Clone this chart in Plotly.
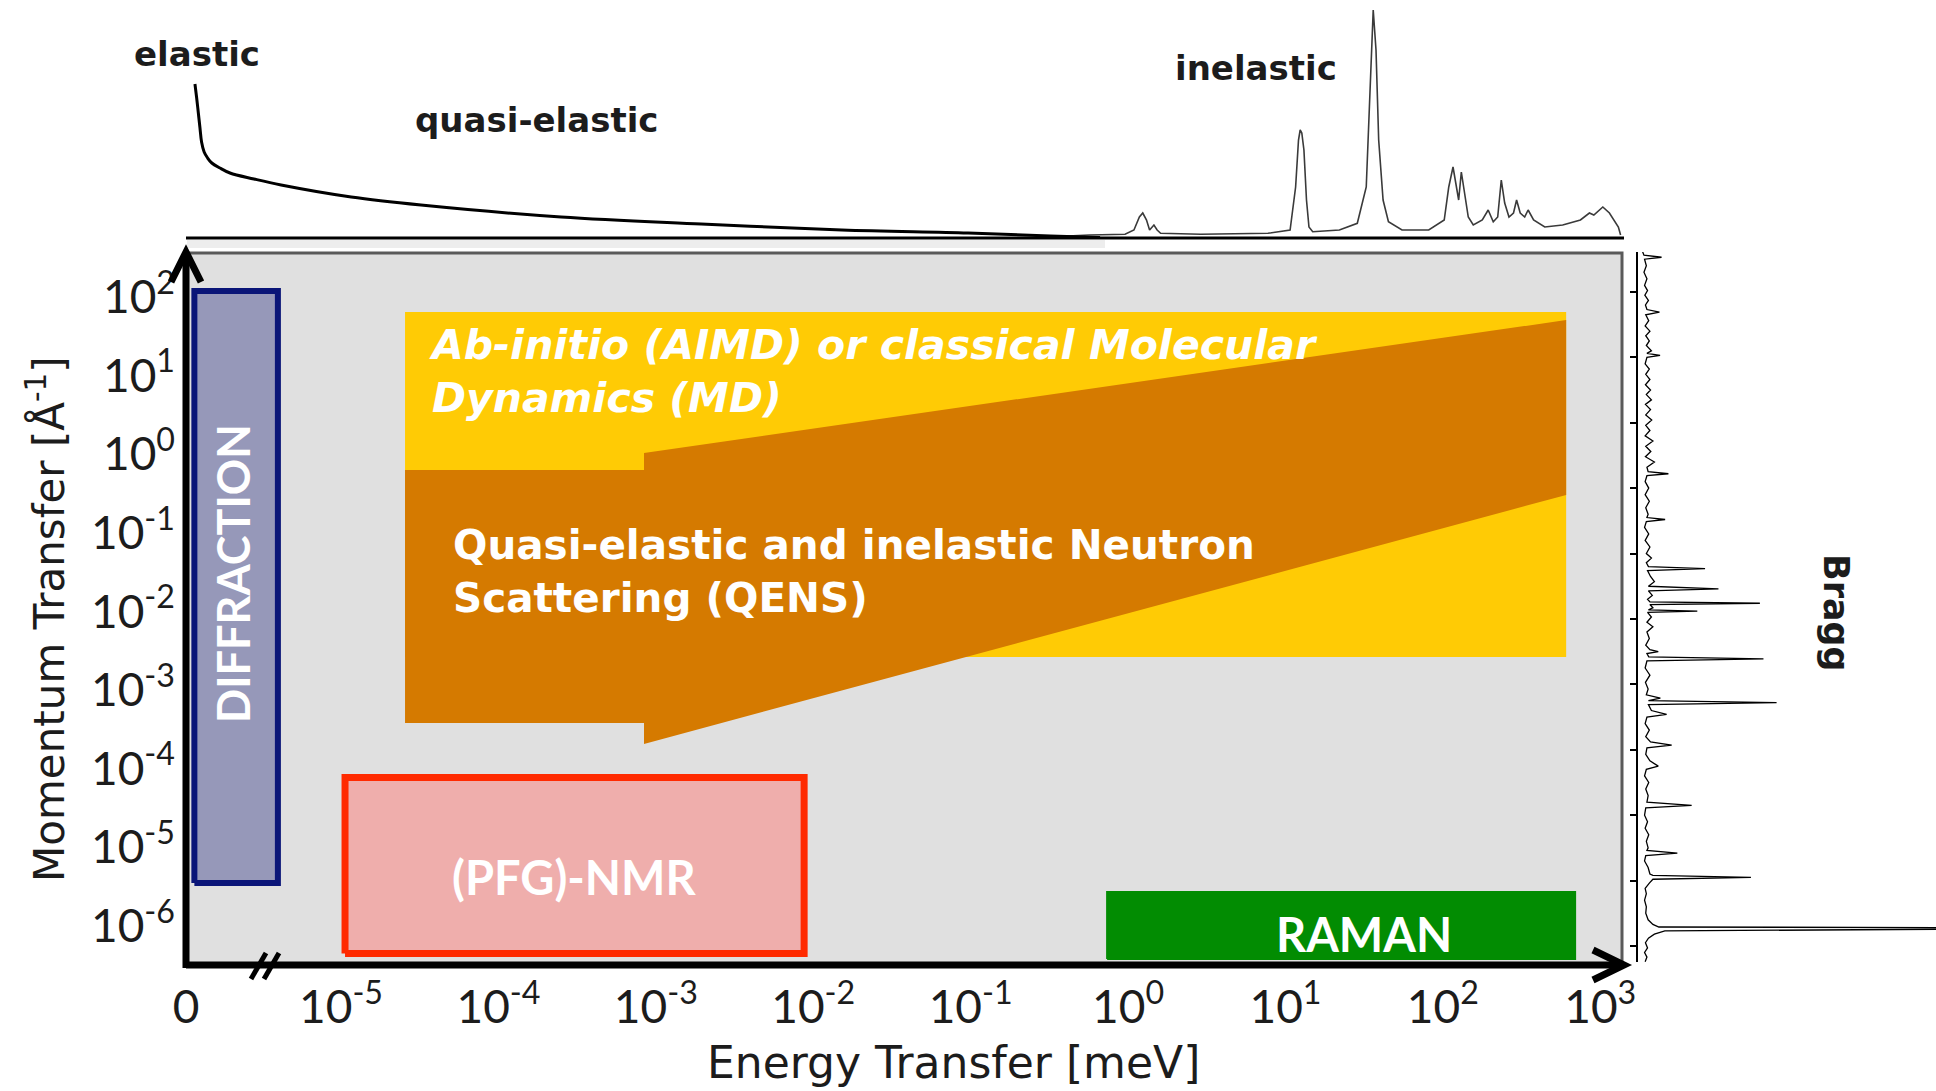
import plotly.graph_objects as go

W, H = 1936, 1091

# ---------------- data ----------------
x_tick_vals = [1.035e-6, 1e-5, 1e-4, 1e-3, 1e-2, 1e-1, 1e0, 1e1, 1e2, 1e3]
x_tick_text = ["0", "10<sup>-5</sup>", "10<sup>-4</sup>", "10<sup>-3</sup>", "10<sup>-2</sup>",
               "10<sup>-1</sup>", "10<sup>0</sup>", "10<sup>1</sup>", "10<sup>2</sup>", "10<sup>3</sup>"]
y_tick_vals = [1e2, 1e1, 1e0, 1e-1, 1e-2, 1e-3, 1e-4, 1e-5, 1e-6]
y_tick_text = ["10<sup>2</sup>", "10<sup>1</sup>", "10<sup>0</sup>", "10<sup>-1</sup>", "10<sup>-2</sup>",
               "10<sup>-3</sup>", "10<sup>-4</sup>", "10<sup>-5</sup>", "10<sup>-6</sup>"]

# technique regions: energy (meV) and momentum (1/A) limits
diffraction_E = [1.17e-6, 3.97e-6]
diffraction_Q = [3.5e-6, 119]
nmr_E = [1.06e-5, 8.75e-3]
nmr_Q = [4.45e-7, 7.7e-5]
raman_E = [0.736, 692]
raman_Q = [3.78e-7, 2.69e-6]
md_E = [2.55e-5, 607]
md_Q = [2.63e-3, 64.4]
qens_E = [2.55e-5, 8.41e-4, 8.41e-4, 607, 607, 8.41e-4, 8.41e-4, 2.55e-5, 2.55e-5]
qens_Q = [0.630, 0.630, 1.035, 50.9, 0.303, 2.06e-4, 3.80e-4, 3.80e-4, 0.630]

# top spectrum: elastic / quasi-elastic line (energy meV, intensity a.u.)
qe_E = [1.18e-6, 1.21e-6, 1.24e-6, 1.27e-6, 1.30e-6, 1.35e-6, 1.42e-6, 1.51e-6, 1.70e-6, 1.97e-6,
        2.8e-6, 4.16e-6, 1.16e-5, 3.22e-5, 2.50e-4, 1.94e-3, 1.52e-2, 9.62e-2, 0.320, 0.664]
qe_I = [154, 140, 125, 110, 96, 86, 80, 75, 70, 65,
        59, 53, 41, 33, 21, 14, 8, 5, 2, 0.5]

# top spectrum: inelastic (vibrational) spectrum
inel_E = [0.277, 0.568, 0.957, 1.09, 1.18, 1.24, 1.31, 1.37, 1.46, 1.53, 1.61, 2.90, 7.74, 10.7,
          11.6, 12.1, 12.4, 12.7, 13.1, 13.6, 14.1, 14.9, 22.0, 28.6, 32.6, 34.8, 36.1, 37.6, 39.1,
          41.7, 45.1, 55.0, 81.3, 102, 109, 116, 122, 126, 131, 137, 145, 156, 178, 194, 209, 223,
          235, 247, 263, 281, 294, 310, 331, 348, 377, 444, 577, 748, 853, 910, 1038, 1143, 1219,
          1303, 1346]
inel_I = [0.7, 3, 3.7, 8, 21, 25, 18, 8, 13, 8, 4.7, 3.7, 4.7, 8,
          51, 98, 108, 105, 88, 38, 11, 6.3, 8, 14.7, 51, 171, 228, 188, 98,
          38, 16.3, 8, 8, 18, 51, 71, 51, 38, 66, 45, 21, 13, 18, 28, 16.3, 21,
          58, 35, 21, 25, 38, 25, 21, 28, 18, 11, 13, 18, 25, 23, 31, 25, 18,
          11, 3]

# right spectrum: Bragg diffraction pattern (position a.u., intensity a.u.)
bragg_pos = [106.2, 105.6, 105.3, 105.0, 104.0, 103.0, 102.0, 101.0, 100.2, 99.5, 98.7, 98.0, 97.3,
             96.9, 96.5, 95.6, 94.8, 94.0, 93.3, 92.5, 91.8, 91.0, 90.6, 90.3, 90.0, 89.0, 88.2,
             87.4, 86.6, 85.8, 85.0, 84.3, 83.5, 82.8, 82.0, 81.2, 80.4, 79.6, 78.8, 78.0, 77.2,
             76.4, 75.6, 74.8, 74.0, 73.2, 72.5, 72.2, 71.9, 71.0, 70.0, 69.0, 68.0, 67.0, 66.0,
             65.5, 65.2, 64.9, 64.0, 63.0, 62.0, 61.0, 60.0, 59.3, 58.6, 58.0, 57.7, 57.4, 56.5,
             55.7, 55.0, 54.6, 54.3, 53.6, 53.0, 52.6, 52.4, 52.2, 51.7, 51.4, 51.2, 51.0, 50.3,
             49.5, 48.8, 48.0, 47.0, 46.0, 45.3, 45.0, 44.7, 44.2, 43.9, 43.6, 42.5, 41.4, 40.3,
             39.3, 38.4, 37.9, 37.5, 37.2, 36.9, 36.0, 35.4, 35.0, 34.0, 33.0, 32.0, 31.2, 30.7,
             30.3, 29.3, 28.3, 27.5, 27.0, 26.0, 25.0, 24.0, 23.0, 22.0, 21.5, 21.1, 20.0, 19.0,
             18.0, 17.0, 16.0, 15.0, 14.6, 14.2, 13.8, 13.0, 12.0, 11.0, 10.8, 10.5, 10.2, 9.6,
             8.8, 8.0, 7.0, 6.0, 5.0, 4.0, 3.3, 2.9, 2.8, 2.6, 2.3, 1.8, 1.2, 0.5, -0.3, -1.0,
             -1.7, -2.4]
bragg_I = [1.5, 2.0, 7.9, 2.2, 2.8, 2.0, 3.0, 2.2, 3.2, 2.3, 3.5, 2.5, 3.0,
           7.2, 2.6, 3.6, 2.4, 4.0, 2.6, 3.8, 2.8, 4.5, 3.0, 7.4, 3.0, 2.4, 3.8,
           2.6, 4.0, 2.5, 4.2, 2.8, 4.5, 2.5, 4.2, 2.6, 4.6, 2.6, 4.0, 2.4, 5.0,
           2.6, 4.3, 2.5, 5.5, 3.0, 3.4, 10.2, 3.0, 2.4, 3.6, 2.4, 3.8, 2.6, 3.4,
           3.0, 9.1, 2.8, 2.2, 3.6, 2.4, 4.0, 2.8, 4.5, 2.8, 3.5, 22.5, 3.2, 4.2,
           5.5, 3.5, 27.0, 3.5, 4.8, 3.2, 4.0, 40.9, 4.0, 5.0, 3.5, 19.9, 3.2, 4.5,
           3.0, 5.0, 3.0, 3.8, 2.6, 4.0, 6.8, 3.0, 3.6, 42.1, 3.0, 2.4, 4.0, 2.5,
           3.4, 2.8, 7.5, 3.5, 46.5, 3.5, 4.5, 9.6, 3.0, 2.4, 3.8, 2.6, 4.2, 11.3,
           3.0, 2.6, 4.0, 6.8, 2.8, 2.2, 3.6, 2.6, 3.4, 3.0, 18.0, 2.6, 2.2, 3.2,
           2.4, 3.6, 2.8, 3.4, 3.0, 13.2, 2.6, 2.2, 3.4, 4.0, 5.0, 37.9, 5.0, 3.8,
           2.4, 2.8, 2.2, 2.8, 2.6, 3.4, 5.0, 7.0, 115, 115, 9.0, 5.5, 3.5, 2.5, 3.2, 2.2,
           3.0, 2.4]
bragg_ticks = list(range(0, 101, 10))

# ---------------- figure ----------------
TICK_FONT = "Lato"
TEXT_FONT = "DejaVu Sans"
BOX_FONT = "Lato"
INK = "#1c1c1c"


def px(x):
    """page pixel -> paper fraction"""
    return x / W


def py(y):
    return 1 - y / H


fig = go.Figure()


def box(E, Q, fill, line_color, line_width):
    fig.add_trace(go.Scatter(
        x=[E[0], E[1], E[1], E[0], E[0]], y=[Q[0], Q[0], Q[1], Q[1], Q[0]],
        mode="lines", fill="toself", fillcolor=fill,
        line=dict(color=line_color, width=line_width), hoverinfo="skip",
        xaxis="x", yaxis="y"))


box(md_E, md_Q, "#ffcb05", "#ffcb05", 0)
fig.add_trace(go.Scatter(x=qens_E, y=qens_Q, mode="lines", fill="toself", fillcolor="#d57a00",
                         line=dict(color="#d57a00", width=0), hoverinfo="skip",
                         xaxis="x", yaxis="y"))
box(diffraction_E, diffraction_Q, "#9698b9", "#0a1578", 6)
box(nmr_E, nmr_Q, "#efaeac", "#ff2a00", 7)
box(raman_E, raman_Q, "#028c02", "#028c02", 2)

# top spectrum
fig.add_trace(go.Scatter(x=inel_E, y=inel_I, mode="lines", line=dict(color="#3a3a3a", width=1.6),
                         xaxis="x", yaxis="y2", hoverinfo="skip"))
fig.add_trace(go.Scatter(x=qe_E, y=qe_I, mode="lines", line=dict(color="black", width=3, shape="spline"),
                         xaxis="x", yaxis="y2", hoverinfo="skip"))
# right Bragg pattern
fig.add_trace(go.Scatter(x=bragg_I, y=bragg_pos, mode="lines", line=dict(color="black", width=1.3),
                         xaxis="x3", yaxis="y3", hoverinfo="skip"))

shapes = []
# grey panel
shapes.append(dict(type="rect", xref="x domain", yref="y domain", x0=0, x1=1, y0=0, y1=1,
                   fillcolor="#e0e0e0", line=dict(color="#5a5a5a", width=3), layer="below"))
# top spectrum baseline + soft shadow
shapes.append(dict(type="line", xref="paper", yref="paper", x0=px(187), x1=px(1105), y0=py(244), y1=py(244),
                   line=dict(color="rgba(0,0,0,0.07)", width=8), layer="below"))
shapes.append(dict(type="line", xref="paper", yref="paper", x0=px(186), x1=px(1624), y0=py(238), y1=py(238),
                   line=dict(color="black", width=3)))
# axes with open arrow heads
AX = dict(color="black", width=7)
shapes.append(dict(type="line", xref="paper", yref="paper", x0=px(186), x1=px(1622), y0=py(965), y1=py(965), line=AX))
shapes.append(dict(type="line", xref="paper", yref="paper", x0=px(186), x1=px(186), y0=py(968), y1=py(254), line=AX))
shapes.append(dict(type="path", xref="paper", yref="paper",
                   path=f"M {px(1593)} {py(950)} L {px(1624)} {py(965)} L {px(1593)} {py(980)}", line=AX))
shapes.append(dict(type="path", xref="paper", yref="paper",
                   path=f"M {px(171)} {py(282)} L {px(186)} {py(252)} L {px(201)} {py(282)}", line=AX))
# axis break marks
for dx in (0, 13):
    shapes.append(dict(type="line", xref="paper", yref="paper", x0=px(251 + dx), x1=px(266 + dx),
                       y0=py(979), y1=py(953), line=dict(color="black", width=5)))

annotations = []


def ann(text, x, y, size, font=TEXT_FONT, color=INK, bold=False, italic=False, angle=0,
        xanchor="center", align="center"):
    t = text
    if bold:
        t = f"<b>{t}</b>"
    if italic:
        t = f"<i>{t}</i>"
    annotations.append(dict(text=t, x=px(x), y=py(y), xref="paper", yref="paper", showarrow=False,
                            font=dict(family=font, size=size, color=color), textangle=angle,
                            xanchor=xanchor, yanchor="middle", align=align))


ann("elastic", 197, 54, 34, bold=True)
ann("quasi-elastic", 536, 120, 34, bold=True)
ann("inelastic", 1256, 68, 34, bold=True)
ann("Bragg", 1836, 613, 35, bold=True, angle=90)
ann("DIFFRACTION", 233, 574, 45, font=BOX_FONT, color="white", bold=True, angle=-90)
ann("Ab-initio (AIMD) or classical Molecular<br>Dynamics (MD)", 427, 371, 41, color="white",
    bold=True, italic=True, xanchor="left", align="left")
ann("Quasi-elastic and inelastic Neutron<br>Scattering (QENS)", 451, 571, 40.5, color="white",
    bold=True, xanchor="left", align="left")
ann("(PFG)-NMR", 574, 877, 47, font=BOX_FONT, color="white", bold=True)
ann("RAMAN", 1364, 934, 47, font=BOX_FONT, color="white", bold=True)
ann("Momentum Transfer [Å<sup>-1</sup>]", 46, 619, 42, angle=-90)
ann("Energy Transfer [meV]", 953, 1062, 44)

fig.update_layout(
    template="none",
    width=W, height=H, margin=dict(l=0, r=0, t=0, b=0, pad=0, autoexpand=False),
    paper_bgcolor="white", plot_bgcolor="rgba(0,0,0,0)", showlegend=False,
    shapes=shapes, annotations=annotations,
    xaxis=dict(type="log", range=[-5.985, 3.138], domain=[px(186), px(1622)], anchor="y",
               showgrid=False, zeroline=False, showline=False, ticks="", automargin=False,
               tickvals=x_tick_vals, ticktext=x_tick_text, ticklabelstandoff=12,
               tickfont=dict(family=TICK_FONT, size=46, color=INK)),
    yaxis=dict(type="log", range=[-6.486, 2.560], domain=[py(964), py(253)], anchor="x",
               showgrid=False, zeroline=False, showline=False, ticks="", automargin=False,
               tickvals=y_tick_vals, ticktext=y_tick_text, ticklabelstandoff=10,
               tickfont=dict(family=TICK_FONT, size=46, color=INK)),
    yaxis2=dict(domain=[py(238), 1], range=[0, 238], anchor="x", visible=False, automargin=False),
    xaxis3=dict(domain=[px(1638), 1], range=[0, (W - 1638) / 2.98], anchor="y3", visible=False,
                automargin=False),
    yaxis3=dict(domain=[py(962), py(252)], range=[-2.45, 106.1], anchor="x3", automargin=False,
                showline=True, linecolor="black", linewidth=1.5, ticks="outside", ticklen=6,
                tickwidth=2, tickcolor="black", tickvals=bragg_ticks, showticklabels=False,
                showgrid=False, zeroline=False),
)

fig.write_html("out.html")
